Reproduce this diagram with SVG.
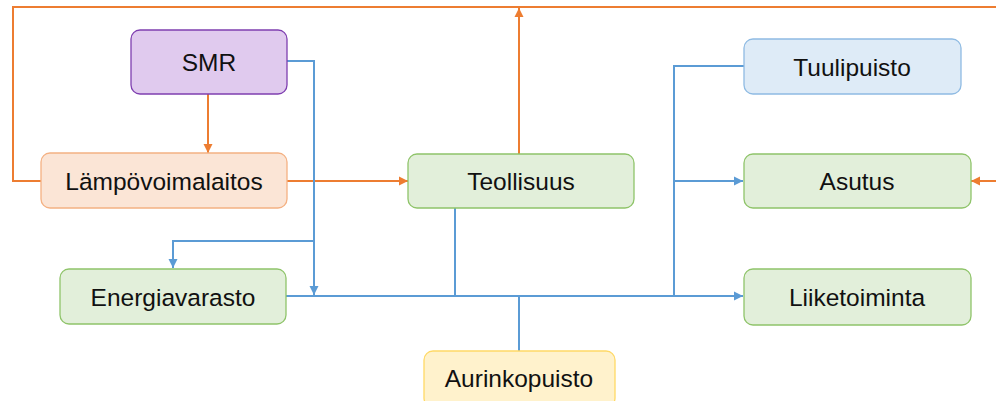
<svg xmlns="http://www.w3.org/2000/svg" width="996" height="401" viewBox="0 0 996 401">
  <style>
    .node rect { stroke-width: 1.3; }
    .node text { font-family: "Liberation Sans", Arial, sans-serif; font-size: 24.5px; fill: #111; text-anchor: middle; dominant-baseline: central; }
    .purple rect { fill: #e0caee; stroke: #7f3fb0; }
    .peach rect { fill: #fbe5d6; stroke: #f4b183; }
    .green rect { fill: #e2efda; stroke: #8fc46a; }
    .blue rect { fill: #deebf7; stroke: #8fbbe3; }
    .yellow rect { fill: #fff2cc; stroke: #ffd966; }
    .or { fill: none; stroke: #ed7d31; stroke-width: 2; }
    .bl { fill: none; stroke: #5b9bd5; stroke-width: 2; }
  </style>
  <defs>
    <marker id="arrO" markerUnits="userSpaceOnUse" markerWidth="10" markerHeight="10" refX="9" refY="5" orient="auto">
      <path d="M0,0.5 L9,5 L0,9.5 Z" fill="#ed7d31"/>
    </marker>
    <marker id="arrB" markerUnits="userSpaceOnUse" markerWidth="10" markerHeight="10" refX="9" refY="5" orient="auto">
      <path d="M0,0.5 L9,5 L0,9.5 Z" fill="#5b9bd5"/>
    </marker>
  </defs>
  <rect width="996" height="401" fill="#ffffff"/>

  <g id="connectors">
    <!-- heat loop along the top -->
    <path class="or" d="M41,181 H13 V7 H996"/>
    <path class="or" d="M519,154 V8" marker-end="url(#arrO)"/>
    <path class="or" d="M208,94 V153" marker-end="url(#arrO)"/>
    <path class="or" d="M287,181 H408" marker-end="url(#arrO)"/>
    <path class="or" d="M996,181 H971" marker-end="url(#arrO)"/>
    <!-- electricity network -->
    <path class="bl" d="M287,61 H314 V295" marker-end="url(#arrB)"/>
    <path class="bl" d="M314,241 H173 V268" marker-end="url(#arrB)"/>
    <path class="bl" d="M286,296 H743" marker-end="url(#arrB)"/>
    <path class="bl" d="M455,208 V296"/>
    <path class="bl" d="M519,351 V296"/>
    <path class="bl" d="M744,66 H674 V296"/>
    <path class="bl" d="M674,181 H743" marker-end="url(#arrB)"/>
  </g>

  <g id="smr" class="node purple">
    <rect x="131" y="30" width="156" height="64" rx="9"/>
    <text x="209" y="62">SMR</text>
  </g>
  <g id="lampovoimalaitos" class="node peach">
    <rect x="41" y="153" width="246" height="55" rx="9"/>
    <text x="164" y="181">Lämpövoimalaitos</text>
  </g>
  <g id="energiavarasto" class="node green">
    <rect x="60" y="269" width="226" height="55" rx="9"/>
    <text x="173" y="297">Energiavarasto</text>
  </g>
  <g id="teollisuus" class="node green">
    <rect x="408" y="154" width="226" height="54" rx="9"/>
    <text x="521" y="181">Teollisuus</text>
  </g>
  <g id="aurinkopuisto" class="node yellow">
    <rect x="424" y="351" width="191" height="56" rx="9"/>
    <text x="519" y="378">Aurinkopuisto</text>
  </g>
  <g id="tuulipuisto" class="node blue">
    <rect x="744" y="39" width="217" height="55" rx="9"/>
    <text x="852" y="67">Tuulipuisto</text>
  </g>
  <g id="asutus" class="node green">
    <rect x="744" y="154" width="227" height="54" rx="9"/>
    <text x="857" y="181">Asutus</text>
  </g>
  <g id="liiketoiminta" class="node green">
    <rect x="744" y="269" width="227" height="56" rx="9"/>
    <text x="857" y="297">Liiketoiminta</text>
  </g>
</svg>
